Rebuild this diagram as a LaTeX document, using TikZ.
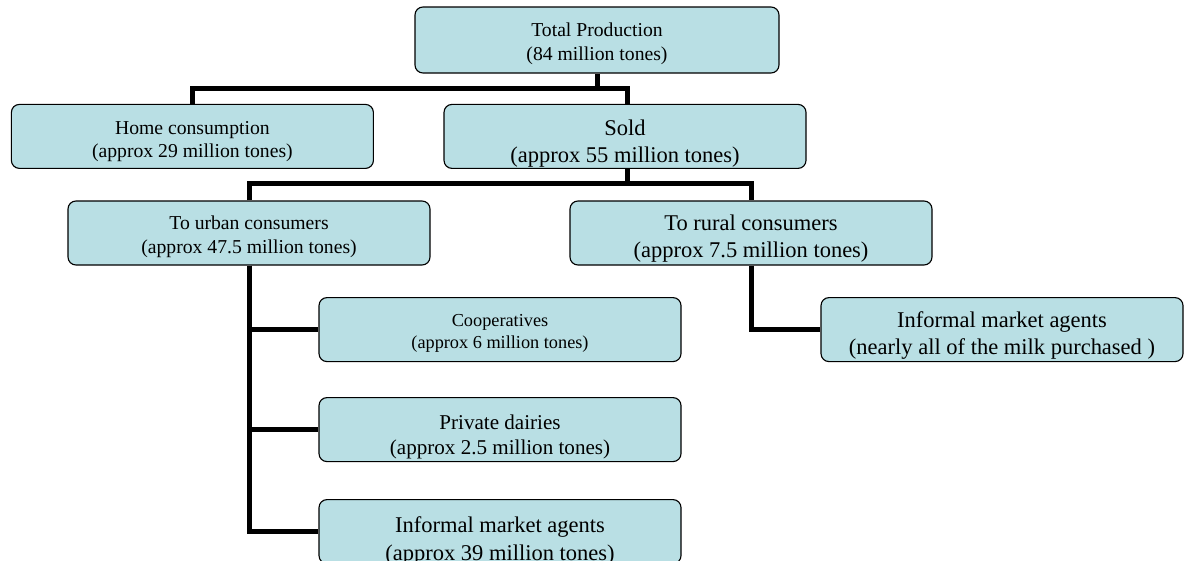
\documentclass[tikz,border=0pt]{standalone}
\usepackage{fontspec}
\setmainfont{Liberation Serif}
\usepackage{tikz}
\usetikzlibrary{calc}
\definecolor{boxblue}{RGB}{185,223,228}

\begin{document}
\begin{tikzpicture}[
      box/.style={draw=black, line width=0.8pt, fill=boxblue, rounded corners=0.2cm,
        minimum width=9.05cm, minimum height=1.6cm, inner sep=0pt},
      fs/.style 2 args={font=\fontsize{#1}{#2}\selectfont, align=center},
      link/.style={line width=0.125cm}]
      \useasboundingbox (0,0) rectangle (29.65,-14);
      \node[box, minimum width=9.1cm, minimum height=1.65cm] (tot) at (14.925,-1.0) {};
      \node[box] (home) at (4.81,-3.41) {};
      \node[box] (sold) at (15.625,-3.41) {};
      \node[box] (urban) at (6.225,-5.825) {};
      \node[box] (rural) at (18.775,-5.825) {};
      \node[box] (coop) at (12.5,-8.24) {};
      \node[box] (priv) at (12.5,-10.74) {};
      \node[box] (infu) at (12.5,-13.29) {};
      \node[box] (infr) at (25.05,-8.24) {};
      % texts
      \node[fs={14}{16.8}] (tot-t) at ($(tot)+(0,-0.09)$)
        {Total Production\\(84 million tones)};
      \node[fs={14}{16.8}] (home-t) at ($(home)+(0,-0.13)$)
        {Home consumption\\(approx 29 million tones)};
      \node[fs={16}{19.2}] (sold-t) at ($(sold)+(0,-0.19)$)
        {Sold\\(approx 55 million tones)};
      \node[fs={14}{16.8}] (urban-t) at ($(urban)+(0,-0.1)$)
        {To urban consumers\\(approx 47.5 million tones)};
      \node[fs={16}{19.6}] (rural-t) at ($(rural)+(0,-0.14)$)
        {To rural consumers\\(approx 7.5 million tones)};
      \node[fs={13}{15.6}] (coop-t) at ($(coop)+(0,-0.1)$)
        {Cooperatives\\(approx 6 million tones)};
      \node[fs={15}{18}] (priv-t) at ($(priv)+(0,-0.18)$)
        {Private dairies\\(approx 2.5 million tones)};
      \node[fs={16}{19.6}] (infu-t) at ($(infu)+(0,-0.24)$)
        {Informal market agents\\(approx 39 million tones)};
      \node[fs={16}{19.6}] (infr-t) at ($(infr)+(0,-0.15)$)
        {Informal market agents\\(nearly all of the milk purchased )};
      % buses
      \coordinate (tbus) at ($(tot.south)+(0,-0.375)$);
      \coordinate (sbus) at ($(sold.south)+(0.05,-0.375)$);
      \draw[link] (tot.south) -- (tbus);
      \draw[link] (home.north) |- (tbus) -| ($(sold.north)+(0.05,0)$);
      \draw[link] ($(sold.south)+(0.05,0)$) -- (sbus);
      \draw[link] (urban.north) |- (sbus) -| (rural.north);
      \draw[link] (urban.south) |- (coop.west);
      \draw[link] (urban.south) |- (priv.west);
      \draw[link] (urban.south) |- (infu.west);
      \draw[link] (rural.south) |- (infr.west);
    \end{tikzpicture}
\end{document}
